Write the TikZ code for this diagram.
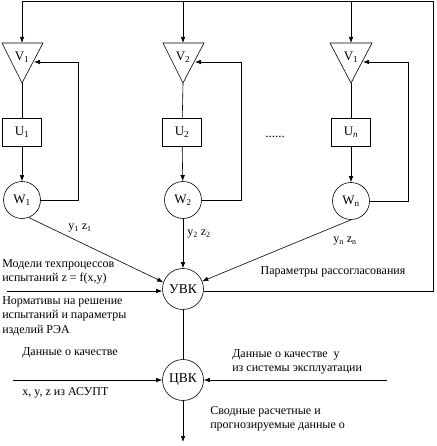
\documentclass[tikz,border=0pt]{standalone}
\usepackage{fontspec}
\setmainfont{Liberation Serif}
\usetikzlibrary{arrows.meta}

\tikzset{
  every path/.style={line width=0.6pt},
  txt/.style={font=\fontsize{12}{14.5}\selectfont, inner sep=0pt, align=left},
  block/.style={draw, minimum width=39, minimum height=28, inner sep=0pt, font=\fontsize{13}{15}\selectfont},
  smallcirc/.style={draw, circle, minimum size=37, inner sep=0pt, font=\fontsize{13}{15}\selectfont},
  bigcirc/.style={draw, circle, minimum size=41, inner sep=0pt, font=\fontsize{13.5}{15}\selectfont},
  arr/.style={-{Latex[length=6pt,width=4.5pt]}}
}

\begin{document}
\begin{tikzpicture}[x=1pt,y=-1pt]
      \useasboundingbox (0,0) rectangle (436,446);
      \draw (2,43) -- (43,43) -- (22,83) -- cycle;
      \draw (163,43) -- (204,43) -- (183,83) -- cycle;
      \draw (330,43) -- (372,43) -- (351,83) -- cycle;
      \node[font=\fontsize{13}{15}\selectfont] (v1) at (22,57) {V\textsubscript{1}};
      \node[font=\fontsize{13}{15}\selectfont] (v2) at (183,57) {V\textsubscript{2}};
      \node[font=\fontsize{13}{15}\selectfont] (vn) at (351,57) {V\textsubscript{1}};
      \coordinate (v1in) at (22,43); \coordinate (v1out) at (22,83);
      \coordinate (v2in) at (183,43); \coordinate (v2out) at (183,83);
      \coordinate (vnin) at (351,43); \coordinate (vnout) at (351,83);
      \coordinate (v1fb) at (34,62); \coordinate (v2fb) at (195,62);
      \coordinate (vnfb) at (363,62);
      \node[block] (u1) at (22,132) {U\textsubscript{1}};
      \node[block] (u2) at (182,132) {U\textsubscript{2}};
      \node[block] (un) at (351,132) {U\textsubscript{\itshape n}};
      \node[smallcirc] (w1) at (22,200) {W\textsubscript{1}};
      \node[smallcirc] (w2) at (183,200) {W\textsubscript{2}};
      \node[smallcirc] (wn) at (351,201) {W\textsubscript{n}};
      \node[font=\fontsize{13}{15}\selectfont] (dots) at (275,137) {......};
      \node[bigcirc] (uvk) at (183,289) {УВК};
      \node[bigcirc] (cvk) at (183,380) {ЦВК};
      \coordinate (tr) at (433,1); \coordinate (tl) at (22,1);
      \coordinate (inA) at (7,291); \coordinate (inB) at (13,380);
      \coordinate (inC) at (387,380); \coordinate (out) at (183,442);

      \draw (v1out) -- (u1); \draw[arr] (u1) -- (w1);
      \draw (v2out) -- (u2); \draw[arr] (u2) -- (w2);
      \draw (vnout) -- (un); \draw[arr] (un) -- (wn);
      \draw[arr] (w1.east) -- ++(37,0) |- (v1fb);
      \draw[arr] (w2.east) -- ++(39,0) |- (v2fb);
      \draw[arr] (wn.east) -- ++(38,0) |- (vnfb);
      \draw (uvk.-5) -| (tr) -- (tl);
      \draw[arr] (tl) -- (v1in);
      \draw[arr] (v2in |- tr) -- (v2in);
      \draw[arr] (vnin |- tr) -- (vnin);
      \draw[arr] (w1.-69) -- (uvk.161);
      \draw[arr] (w2) -- (uvk);
      \draw[arr] (wn.-90) -- (uvk.22);
      \draw[arr] (inA) -- (inA -| uvk.west);
      \draw (uvk) -- (cvk);
      \draw[arr] (inB) -- (cvk.west);
      \draw[arr] (inC) -- (cvk.east);
      \draw[arr] (cvk) -- (out);

      \node[txt] (l1) at (80,228) {y\textsubscript{1} z\textsubscript{1}};
      \node[txt] (l2) at (199,234) {y\textsubscript{2} z\textsubscript{2}};
      \node[txt] (ln) at (345,241) {y\textsubscript{n} z\textsubscript{n}};
      \node[txt] (mis) at (333,272) {Параметры рассогласования};
      \node[txt, anchor=west] (mod) at (2,272) {Модели техпроцессов\\испытаний z = f(x,y)};
      \node[txt, anchor=north west] (norm) at (2,296) {Нормативы на решение\\испытаний и параметры\\изделий РЭА};
      \node[txt, anchor=west] (qa) at (22,353) {Данные о качестве};
      \node[txt, anchor=west] (qb) at (22,393) {x, y, z из АСУПТ};
      \node[txt, anchor=west] (qc) at (232,362) {Данные о качестве\ \ y\\из системы эксплуатации};
      \node[txt, anchor=west] (sum) at (210,419) {Сводные расчетные и\\прогнозируемые данные о};
    \end{tikzpicture}
\end{document}
